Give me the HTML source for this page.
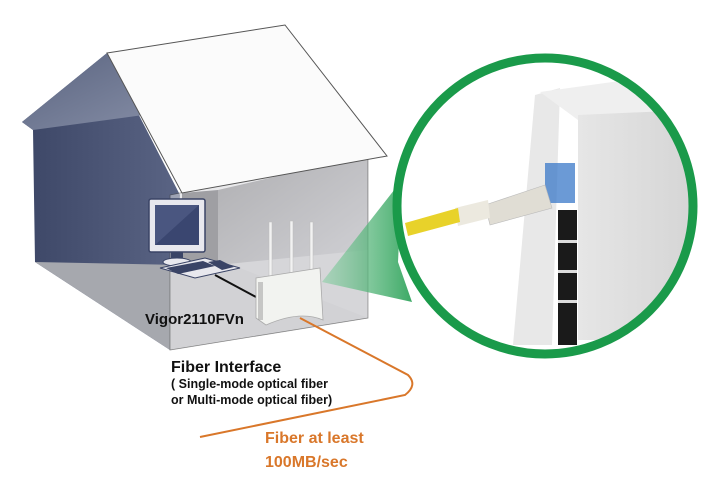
<!DOCTYPE html>
<html><head><style>
html,body{margin:0;padding:0;background:#fff;}
svg{display:block;}
text{font-family:"Liberation Sans",Arial,sans-serif;font-weight:bold;}
</style></head><body>
<svg width="720" height="485" viewBox="0 0 720 485" xmlns="http://www.w3.org/2000/svg">
<defs>
<linearGradient id="lw" x1="0" y1="0" x2="1" y2="0"><stop offset="0" stop-color="#3c4666"/><stop offset="1" stop-color="#5a6484"/></linearGradient>
<linearGradient id="bw" x1="0" y1="0" x2="1" y2="1"><stop offset="0" stop-color="#7e7e80"/><stop offset="1" stop-color="#c8c8cc"/></linearGradient>
<linearGradient id="cone" x1="0" y1="0" x2="1" y2="0"><stop offset="0" stop-color="#8fd0a8" stop-opacity="0.7"/><stop offset="1" stop-color="#1a9a4a"/></linearGradient>
<linearGradient id="gab" x1="0" y1="0" x2="1" y2="1"><stop offset="0" stop-color="#5a6480"/><stop offset="1" stop-color="#8890a8"/></linearGradient>
<linearGradient id="pan" x1="0" y1="0" x2="1" y2="0"><stop offset="0" stop-color="#e6e6e6"/><stop offset="1" stop-color="#d4d4d4"/></linearGradient>
</defs>
<polygon points="107,53 22,122 33,130 35,262 170,350 180,195" fill="url(#lw)"/>
<polygon points="107,53 22,122 33,130 180,110" fill="url(#gab)"/>
<polygon points="35,262 170,350 368,318 240,268 180,265" fill="#a6a8ae"/>
<polygon points="170,265 170,350 368,318 368,250" fill="#cfcfd2" opacity="0.9"/>
<polygon points="182,193 218,190 218,265 182,268" fill="#5a5a5e"/>
<polygon points="218,190 368,155 368,250 218,265" fill="url(#bw)"/>
<polygon points="170,195 368,155 368,318 170,350" fill="#d8d8dc" opacity="0.55" stroke="#444" stroke-width="0.8"/>
<polygon points="107,53 285,25 387,156 182,193" fill="#fbfbfb" stroke="#555" stroke-width="1"/>
<polygon points="322,282 402,180 398,262 412,302" fill="url(#cone)" opacity="0.85"/>
<rect x="149" y="199" width="56" height="53" fill="#e8e8ee" stroke="#3a4466" stroke-width="1.5" rx="2"/>
<rect x="155" y="205" width="44" height="40" fill="#4a5680"/>
<polygon points="155,245 199,205 199,245" fill="#3a4670"/>
<rect x="171" y="252" width="12" height="8" fill="#3a4466"/>
<ellipse cx="177" cy="262" rx="14" ry="4" fill="#e8e8ee" stroke="#3a4466"/>
<polygon points="160,268 205,258 240,268 195,278" fill="#e8e8ee" stroke="#3a4466"/>
<polygon points="166,268 203,261 215,266 178,274" fill="#3a4466"/>
<polygon points="208,262 220,260 234,267 222,270" fill="#3a4466"/>
<line x1="215" y1="275" x2="256" y2="297" stroke="#111" stroke-width="2"/>
<rect x="269" y="222" width="3" height="54" fill="#f2f2f2" stroke="#bbb" stroke-width="0.5"/>
<rect x="290" y="221" width="3" height="54" fill="#f2f2f2" stroke="#bbb" stroke-width="0.5"/>
<rect x="310" y="222" width="3" height="54" fill="#f2f2f2" stroke="#bbb" stroke-width="0.5"/>
<path d="M256,278 L320,268 L323,320 Q300,310 266,325 L256,318 Z" fill="#f2f3f0" stroke="#aaa" stroke-width="0.8"/>
<rect x="258" y="282" width="5" height="38" fill="#999" opacity="0.5"/>
<path d="M300,318 L408,375 Q418,385 405,395 L200,437" fill="none" stroke="#d9772a" stroke-width="2"/>
<clipPath id="cc"><circle cx="545" cy="206" r="148"/></clipPath>
<g clip-path="url(#cc)">
<rect x="390" y="50" width="310" height="320" fill="#fff"/>
<polygon points="535,95 560,88 552,345 513,345" fill="#e8e8e8"/>
<polygon points="540,92 700,70 700,115 578,120" fill="#efefef"/>
<path d="M578,115 L690,110 L700,340 L578,340 Z" fill="url(#pan)"/>
<rect x="558" y="210" width="19" height="135" fill="#1a1a1a"/>
<rect x="558" y="240" width="19" height="3" fill="#ddd"/><rect x="558" y="270" width="19" height="3" fill="#ddd"/><rect x="558" y="300" width="19" height="3" fill="#ddd"/>
<rect x="545" y="163" width="30" height="40" fill="#3a78c8" opacity="0.75"/>
<polygon points="485,205 545,185 552,208 490,225" fill="#e0ddd4" stroke="#bbb" stroke-width="0.6"/>
<polygon points="455,208 488,200 490,218 458,226" fill="#ece9df"/>
<polygon points="405,223 458,208 460,222 408,236" fill="#e8d22a"/>
</g>
<circle cx="545" cy="206" r="148" fill="none" stroke="#1a9a4a" stroke-width="9"/>
<text x="145" y="324" font-size="15" fill="#111">Vigor2110FVn</text>
<text x="171" y="372" font-size="16" fill="#111">Fiber Interface</text>
<text x="171" y="388" font-size="12.5" fill="#111">( Single-mode optical fiber</text>
<text x="171" y="404" font-size="12.5" fill="#111">or Multi-mode optical fiber)</text>
<text x="265" y="443" font-size="16" fill="#d9772a">Fiber at least</text>
<text x="265" y="467" font-size="16" fill="#d9772a">100MB/sec</text>
</svg>
</body></html>
